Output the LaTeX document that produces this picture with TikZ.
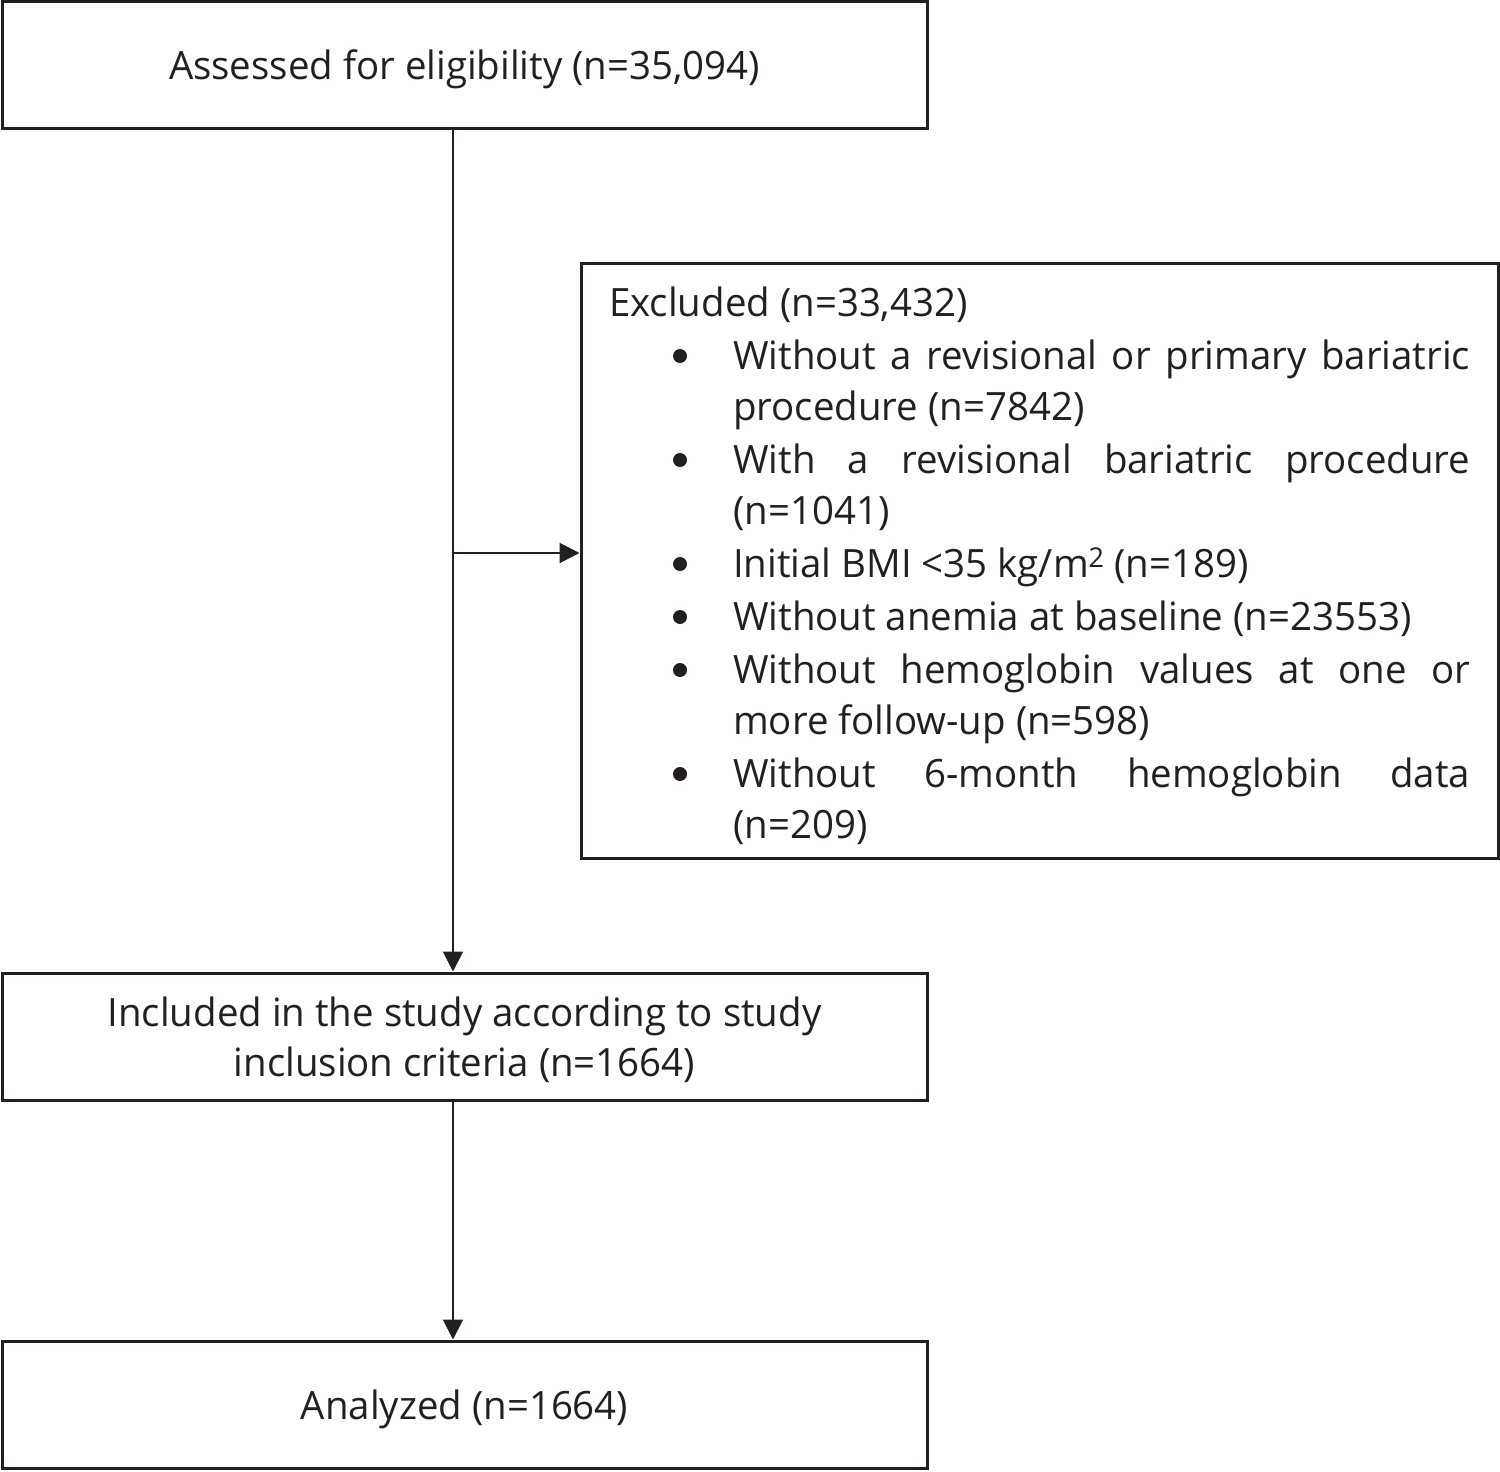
\documentclass[tikz,border=0pt]{standalone}
\usepackage{fontspec}
\setmainfont[FakeStretch=0.985]{Open Sans}
\usetikzlibrary{arrows.meta}
\definecolor{ink}{HTML}{231F20}
\begin{document}
\begin{tikzpicture}[x=1pt,y=-1pt,
  box/.style={draw=ink,line width=3pt,minimum width=925pt,inner sep=0pt,align=center,
    text=ink,text depth=0pt,font=\fontsize{39}{50}\selectfont},
  conn/.style={draw=ink,line width=2pt,-{Triangle[length=20pt,width=20pt]}},
  ln/.style={anchor=base west,inner sep=0pt,text=ink,font=\fontsize{39}{50}\selectfont},
  bul/.style={circle,fill=ink,inner sep=0pt,minimum size=14pt}]
\useasboundingbox (0,0) rectangle (1500,1472);
\node[box,minimum height=126pt] (assess) at (464.5,65) {Assessed for eligibility (n=35,094)};
\node[box,minimum height=127pt] (incl) at (464.5,1036.5) {Included in the study according to study\\inclusion criteria (n=1664)};
\node[box,minimum height=127pt] (anal) at (464.5,1404.5) {Analyzed (n=1664)};
\node[draw=ink,line width=3pt,minimum width=917pt,minimum height=595pt,inner sep=0pt] (excl) at (1039.5,560.5) {};
\coordinate (branch) at (453,553);
\draw[conn] (assess.south -| branch) -- (incl.north -| branch);
\draw[conn] (branch) -- (branch -| excl.west);
\draw[conn] (incl.south -| branch) -- (anal.north -| branch);
\node[ln] (t0) at (609,316) {Excluded (n=33,432)};
\node[ln] (t1) at (733,369) {\makebox[737pt][s]{Without a revisional or primary bariatric}};
\node[ln] (t2) at (733,420) {procedure (n=7842)};
\node[ln] (t3) at (733,473) {\makebox[737pt][s]{With a revisional bariatric procedure}};
\node[ln] (t4) at (733,524) {(n=1041)};
\node[ln] (t5) at (733,577) {Initial BMI <35 kg/m\textsuperscript{2} (n=189)};
\node[ln] (t6) at (733,630) {Without anemia at baseline (n=23553)};
\node[ln] (t7) at (733,683) {\makebox[737pt][s]{Without hemoglobin values at one or}};
\node[ln] (t8) at (733,734) {more follow-up (n=598)};
\node[ln] (t9) at (733,787) {\makebox[737pt][s]{Without 6-month hemoglobin data}};
\node[ln] (t10) at (733,838) {(n=209)};
\foreach \y/\n in {369/b1,473/b2,577/b3,630/b4,683/b5,787/b6}
  \node[bul] (\n) at (680,\y-13) {};
\end{tikzpicture}
\end{document}
